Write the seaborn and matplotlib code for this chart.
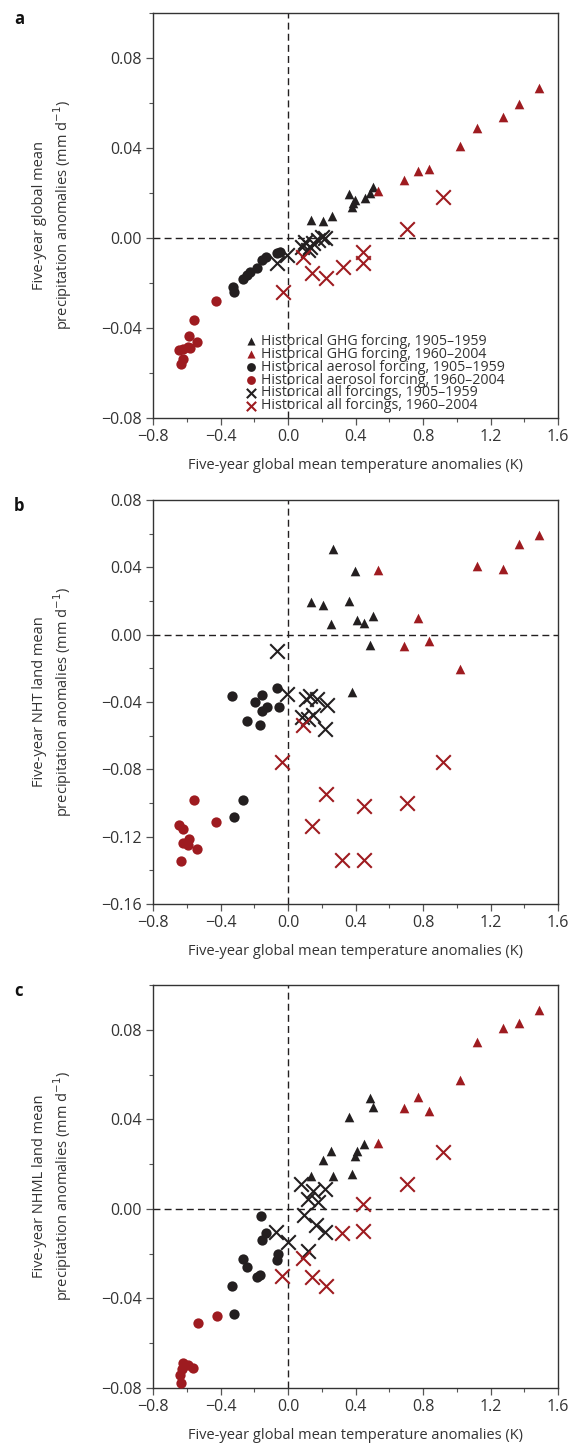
import numpy as np
import pandas as pd
import matplotlib
matplotlib.use("Agg")
import matplotlib.pyplot as plt
from matplotlib.ticker import MultipleLocator, FuncFormatter
import seaborn as sns

# Colours
BLACK = '#231f20'
RED = '#9e1b20'
TEXT = '#333333'

legend_labels = [
    'Historical GHG forcing, 1905\u20131959',
    'Historical GHG forcing, 1960\u20132004',
    'Historical aerosol forcing, 1905\u20131959',
    'Historical aerosol forcing, 1960\u20132004',
    'Historical all forcings, 1905\u20131959',
    'Historical all forcings, 1960\u20132004',
]

# ---- panel a: global mean precipitation ----
a_ghg_early_x = [0.135, 0.209, 0.259, 0.361, 0.381, 0.387, 0.397, 0.456, 0.486, 0.502]
a_ghg_early_y = [0.008, 0.0077, 0.0097, 0.0194, 0.0139, 0.0154, 0.0168, 0.0176, 0.0198, 0.0227]
a_ghg_late_x = [0.532, 0.689, 0.769, 0.836, 1.019, 1.118, 1.276, 1.369, 1.487]
a_ghg_late_y = [0.0208, 0.026, 0.0298, 0.0307, 0.0408, 0.049, 0.054, 0.0595, 0.0668]
a_aer_early_x = [-0.047, -0.067, -0.130, -0.156, -0.185, -0.225, -0.245, -0.268, -0.328, -0.318]
a_aer_early_y = [-0.0062, -0.0068, -0.0086, -0.0097, -0.0134, -0.015, -0.0164, -0.0183, -0.0216, -0.0242]
a_aer_late_x = [-0.427, -0.557, -0.587, -0.541, -0.591, -0.620, -0.644, -0.58, -0.620, -0.636]
a_aer_late_y = [-0.0278, -0.0363, -0.0437, -0.0462, -0.0484, -0.0493, -0.0496, -0.0487, -0.054, -0.0558]
a_all_early_x = [-0.067, -0.008, 0.081, 0.101, 0.120, 0.130, 0.150, 0.180, 0.200, 0.219]
a_all_early_y = [-0.0112, -0.0075, -0.0041, -0.0018, -0.0053, -0.004, -0.0023, -0.0009, 0.0006, 0.0001]
a_all_late_x = [-0.031, 0.091, 0.140, 0.223, 0.328, 0.446, 0.446, 0.703, 0.920]
a_all_late_y = [-0.0238, -0.0083, -0.0156, -0.0179, -0.0127, -0.0061, -0.0112, 0.0039, 0.0183]

# ---- panel b: NHT land mean precipitation ----
b_ghg_early_x = [0.135, 0.209, 0.253, 0.269, 0.361, 0.378, 0.397, 0.411, 0.452, 0.486, 0.502]
b_ghg_early_y = [0.0196, 0.0176, 0.0066, 0.051, 0.0199, -0.0341, 0.0376, 0.0087, 0.0068, -0.0062, 0.0111]
b_ghg_late_x = [0.532, 0.689, 0.769, 0.836, 1.019, 1.118, 1.276, 1.369, 1.487]
b_ghg_late_y = [0.0386, -0.0066, 0.0101, -0.0037, -0.0204, 0.041, 0.039, 0.054, 0.0593]
b_aer_early_x = [-0.334, -0.196, -0.156, -0.067, -0.126, -0.156, -0.053, -0.245, -0.166, -0.265, -0.318]
b_aer_early_y = [-0.0365, -0.040, -0.0357, -0.0316, -0.043, -0.0453, -0.043, -0.0512, -0.0538, -0.098, -0.1084]
b_aer_late_x = [-0.555, -0.427, -0.644, -0.620, -0.585, -0.620, -0.591, -0.541, -0.636]
b_aer_late_y = [-0.0984, -0.1114, -0.1128, -0.1153, -0.1211, -0.1236, -0.125, -0.1276, -0.1344]
b_all_early_x = [-0.067, -0.008, 0.105, 0.130, 0.170, 0.229, 0.081, 0.120, 0.150, 0.219]
b_all_early_y = [-0.0099, -0.0355, -0.038, -0.0365, -0.0385, -0.042, -0.0489, -0.0499, -0.048, -0.0558]
b_all_late_x = [0.091, -0.037, 0.223, 0.140, 0.450, 0.318, 0.450, 0.703, 0.920]
b_all_late_y = [-0.0534, -0.0758, -0.0947, -0.1138, -0.1016, -0.134, -0.134, -0.100, -0.0754]

# ---- panel c: NHML land mean precipitation ----
c_ghg_early_x = [0.135, 0.209, 0.253, 0.269, 0.361, 0.378, 0.397, 0.411, 0.452, 0.486, 0.502]
c_ghg_early_y = [0.0145, 0.0218, 0.0258, 0.0147, 0.0409, 0.0158, 0.0236, 0.0258, 0.0292, 0.0494, 0.0457]
c_ghg_late_x = [0.532, 0.689, 0.769, 0.836, 1.019, 1.118, 1.276, 1.369, 1.487]
c_ghg_late_y = [0.0295, 0.045, 0.0498, 0.0438, 0.0575, 0.0744, 0.081, 0.0831, 0.0887]
c_aer_early_x = [-0.160, -0.130, -0.156, -0.057, -0.067, -0.265, -0.241, -0.185, -0.166, -0.330, -0.318]
c_aer_early_y = [-0.0032, -0.0107, -0.014, -0.0202, -0.0228, -0.0225, -0.0258, -0.0305, -0.0297, -0.0346, -0.0469]
c_aer_late_x = [-0.423, -0.535, -0.620, -0.591, -0.561, -0.626, -0.640, -0.636]
c_aer_late_y = [-0.0479, -0.0508, -0.0688, -0.0697, -0.0712, -0.0715, -0.074, -0.0778]
c_all_early_x = [0.077, 0.150, 0.219, 0.120, 0.180, 0.097, 0.164, 0.219, -0.071, -0.002, 0.120]
c_all_early_y = [0.011, 0.0081, 0.0088, 0.0044, 0.003, -0.0027, -0.0074, -0.0103, -0.0103, -0.0147, -0.0189]
c_all_late_x = [-0.037, 0.091, 0.140, 0.223, 0.318, 0.446, 0.446, 0.703, 0.920]
c_all_late_y = [-0.0299, -0.0221, -0.0302, -0.0346, -0.0107, 0.0022, -0.0097, 0.011, 0.0253]

panel_letters = ['a', 'b', 'c']
y_titles = [
    'Five-year global mean\nprecipitation anomalies (mm d$^{-1}$)',
    'Five-year NHT land mean\nprecipitation anomalies (mm d$^{-1}$)',
    'Five-year NHML land mean\nprecipitation anomalies (mm d$^{-1}$)',
]
x_title = 'Five-year global mean temperature anomalies (K)'
y_limits = [(-0.08, 0.10), (-0.16, 0.08), (-0.08, 0.10)]

panels = [
    [(a_ghg_early_x, a_ghg_early_y), (a_ghg_late_x, a_ghg_late_y),
     (a_aer_early_x, a_aer_early_y), (a_aer_late_x, a_aer_late_y),
     (a_all_early_x, a_all_early_y), (a_all_late_x, a_all_late_y)],
    [(b_ghg_early_x, b_ghg_early_y), (b_ghg_late_x, b_ghg_late_y),
     (b_aer_early_x, b_aer_early_y), (b_aer_late_x, b_aer_late_y),
     (b_all_early_x, b_all_early_y), (b_all_late_x, b_all_late_y)],
    [(c_ghg_early_x, c_ghg_early_y), (c_ghg_late_x, c_ghg_late_y),
     (c_aer_early_x, c_aer_early_y), (c_aer_late_x, c_aer_late_y),
     (c_all_early_x, c_all_early_y), (c_all_late_x, c_all_late_y)],
]

# marker style for each series (same order as legend_labels)
styles = [
    dict(marker='^', color=BLACK, s=48, linewidth=0),
    dict(marker='^', color=RED, s=48, linewidth=0),
    dict(marker='o', color=BLACK, s=55, linewidth=0),
    dict(marker='o', color=RED, s=55, linewidth=0),
    dict(marker='x', color=BLACK, s=110, linewidth=1.5),
    dict(marker='x', color=RED, s=110, linewidth=1.5),
]
legend_sizes = [34, 34, 40, 40, 45, 45]

sns.set_style('ticks')
plt.rcParams['font.family'] = ['Open Sans', 'DejaVu Sans']
plt.rcParams['mathtext.fontset'] = 'dejavusans'
plt.rcParams['text.color'] = TEXT
plt.rcParams['axes.labelcolor'] = TEXT

fig = plt.figure(figsize=(5.74, 14.49), dpi=100)

# axes boxes in pixels: left, right, top, bottom
boxes = [(153, 558, 13, 418), (153, 558, 500, 904), (153, 558, 985, 1388)]
W, H = 574.0, 1449.0

minus = FuncFormatter(lambda v, p: ('%.2f' % v).replace('-', '\u2212'))
minus_x = FuncFormatter(lambda v, p: ('%.1f' % v).replace('-', '\u2212'))

for i, (l, r, t, b) in enumerate(boxes):
    ax = fig.add_axes([l / W, 1 - b / H, (r - l) / W, (b - t) / H])

    ax.axhline(0, color=BLACK, lw=1.0, ls=(0, (5, 3)), zorder=1)
    ax.axvline(0, color=BLACK, lw=1.0, ls=(0, (5, 3)), zorder=1)

    for (xs, ys), st, lab in zip(panels[i], styles, legend_labels):
        df = pd.DataFrame({'t': xs, 'p': ys})
        sns.scatterplot(data=df, x='t', y='p', ax=ax, label=lab, zorder=3, **st)

    ax.set_xlim(-0.8, 1.6)
    ax.set_ylim(*y_limits[i])
    ax.xaxis.set_major_locator(MultipleLocator(0.4))
    ax.xaxis.set_minor_locator(MultipleLocator(0.2))
    ax.yaxis.set_major_locator(MultipleLocator(0.04))
    ax.yaxis.set_minor_locator(MultipleLocator(0.02))
    ax.xaxis.set_major_formatter(minus_x)
    ax.yaxis.set_major_formatter(minus)
    ax.tick_params(which='major', length=5, width=0.9, color='#555555',
                   labelsize=11.5, labelcolor=TEXT, pad=3)
    ax.tick_params(which='minor', length=3, width=0.8, color='#555555')
    for sp in ax.spines.values():
        sp.set_color('#333333')
        sp.set_linewidth(1.0)

    ax.set_xlabel(x_title, fontsize=10.5, labelpad=9)
    ax.set_ylabel(y_titles[i], fontsize=10.5, linespacing=1.25)
    ax.yaxis.set_label_coords(-0.195, 0.5)

    fig.text(14 / W, 1 - (t + 6) / H, panel_letters[i], fontsize=12,
             fontweight='bold', color='#111111', va='center', ha='left')

    if i == 0:
        leg = ax.legend(loc='upper left', bbox_to_anchor=(0.225, 0.2075), frameon=False,
                        fontsize=10.2, handletextpad=0.2, handlelength=1.0,
                        labelspacing=-0.15, borderaxespad=0, borderpad=0)
        for h, sz in zip(leg.legend_handles, legend_sizes):
            h.set_sizes([sz])
    else:
        ax.get_legend().remove()

plt.savefig('out.png', dpi=100)
